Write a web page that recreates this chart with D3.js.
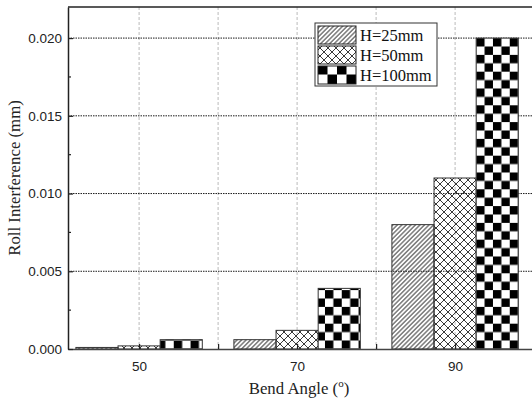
<!DOCTYPE html>
<html><head><meta charset="utf-8">
<script src="https://cdn.jsdelivr.net/npm/d3@7"></script>
<style>body{margin:0;background:#fff;} svg{display:block;}</style>
</head><body>
<svg id="c" width="532" height="400"></svg>
<script>
const categories = [50, 70, 90];
const seriesNames = ["H=25mm", "H=50mm", "H=100mm"];
const h25 = [0.0001, 0.0006, 0.0080];
const h50 = [0.0002, 0.0012, 0.0110];
const h100 = [0.0006, 0.0039, 0.0200];
const yTicks = [0, 0.005, 0.010, 0.015, 0.020];
const yMinor = [0.0025, 0.0075, 0.0125, 0.0175];
const xTicks = [50, 70, 90];
const xGrid = [50, 60, 70, 80, 90];

const SERIF = "'Liberation Serif', 'Times New Roman', serif";
const SANS = "'Liberation Sans', Arial, sans-serif";
const series = [h25, h50, h100];
const svg = d3.select("#c");
const L = 68, T = 7, B = 349;
const x = d3.scaleLinear().domain([41, 100]).range([L, L + 59 * 7.9]);
const y = d3.scaleLinear().domain([0, 0.022]).range([B, T]);

const defs = svg.append("defs");
// diagonal hatch "////"
const p1 = defs.append("pattern").attr("id", "hatch").attr("patternUnits", "userSpaceOnUse")
  .attr("width", 3.2).attr("height", 10).attr("patternTransform", "rotate(45)");
p1.append("line").attr("x1", 1.6).attr("x2", 1.6).attr("y1", 0).attr("y2", 10)
  .attr("stroke", "#222").attr("stroke-width", 0.9);
// cross hatch
const p2 = defs.append("pattern").attr("id", "cross").attr("patternUnits", "userSpaceOnUse")
  .attr("width", 8).attr("height", 8);
p2.append("path").attr("d", "M0,0 L8,8 M8,0 L0,8").attr("stroke", "#222").attr("stroke-width", 0.9);
// checker
function checker(id, s, ox, oy) {
  const p = defs.append("pattern").attr("id", id).attr("patternUnits", "userSpaceOnUse")
    .attr("width", 2 * s).attr("height", 2 * s).attr("x", ox).attr("y", oy);
  p.append("rect").attr("width", 2 * s).attr("height", 2 * s).attr("fill", "#fff");
  p.append("rect").attr("width", s).attr("height", s).attr("fill", "#000");
  p.append("rect").attr("x", s).attr("y", s).attr("width", s).attr("height", s).attr("fill", "#000");
}
checker("checker", 8.4, x(90 + 16 / 6), y(0.02));
checker("checkerL", 9.5, 318, 27);
const fills = ["url(#hatch)", "url(#cross)", "url(#checker)"];
const lfills = ["url(#hatch)", "url(#cross)", "url(#checkerL)"];

// vertical grid
svg.append("g").selectAll("line").data(xGrid).join("line")
  .attr("x1", d => x(d)).attr("x2", d => x(d)).attr("y1", T).attr("y2", B)
  .attr("stroke", "#bbb").attr("stroke-width", 1).attr("stroke-dasharray", "3,2");
// horizontal grid
svg.append("g").selectAll("line").data(yTicks.filter(d => d > 0)).join("line")
  .attr("x1", L).attr("x2", 532).attr("y1", d => y(d)).attr("y2", d => y(d))
  .attr("stroke", "#000").attr("stroke-width", 0.9).attr("stroke-dasharray", "1.5,1");

// bars
const groupW = 16; // units
const bw = groupW / 3;
series.forEach((s, si) => {
  svg.append("g").selectAll("rect").data(categories).join("rect")
    .attr("x", (d) => x(d - groupW / 2 + si * bw))
    .attr("width", x(bw) - x(0))
    .attr("y", (d, i) => y(s[i]))
    .attr("height", (d, i) => y(0) - y(s[i]))
    .attr("fill", fills[si]).attr("stroke", "#333").attr("stroke-width", 1);
});

// axes
const ax = svg.append("g").attr("transform", `translate(0,${B})`)
  .call(d3.axisBottom(x).tickValues(xGrid).tickSizeInner(-5).tickSizeOuter(0).tickFormat(d => xTicks.includes(d) ? d : ""));
ax.select(".domain").attr("stroke", "#444").attr("stroke-width", 1.5);
ax.selectAll(".tick line").attr("stroke", "#222").attr("stroke-width", 1.2);
ax.selectAll("text").attr("font-family", SANS).attr("font-size", 13.5)
  .attr("fill", "#222").attr("dy", 0).attr("y", 22);

const ay = svg.append("g").attr("transform", `translate(${L},0)`)
  .call(d3.axisLeft(y).tickValues(yTicks).tickSizeInner(-5).tickSizeOuter(0).tickFormat(d3.format(".3f")));
ay.select(".domain").attr("stroke", "#222").attr("stroke-width", 1.5);
ay.selectAll(".tick line").attr("stroke", "#222").attr("stroke-width", 1.2);
ay.selectAll("text").attr("font-family", SANS).attr("font-size", 13.5)
  .attr("fill", "#222").attr("x", -6);
svg.append("g").selectAll("line").data(yMinor).join("line")
  .attr("x1", L).attr("x2", L + 3).attr("y1", d => y(d)).attr("y2", d => y(d))
  .attr("stroke", "#222").attr("stroke-width", 1.2);

// top frame
svg.append("line").attr("x1", L).attr("x2", 532).attr("y1", T).attr("y2", T)
  .attr("stroke", "#222").attr("stroke-width", 1.5);

// titles
const xt = svg.append("text").attr("x", 299).attr("y", 394).attr("text-anchor", "middle")
  .attr("font-family", SERIF).attr("font-size", 16.8).attr("fill", "#222");
xt.append("tspan").text("Bend Angle (");
xt.append("tspan").attr("dy", -7).attr("font-size", 11).text("o");
xt.append("tspan").attr("dy", 7).text(")");
svg.append("text").attr("transform", "translate(20,178) rotate(-90)").attr("text-anchor", "middle")
  .attr("font-family", SERIF).attr("font-size", 16.8).attr("fill", "#222")
  .text("Roll Interference (mm)");

// legend
const lg = svg.append("g");
lg.append("rect").attr("x", 315).attr("y", 23).attr("width", 122).attr("height", 63)
  .attr("fill", "#fff").attr("stroke", "#333").attr("stroke-width", 1);
seriesNames.forEach((n, i) => {
  const yy = 26 + i * 20;
  lg.append("rect").attr("x", 318).attr("y", yy).attr("width", 38).attr("height", 18)
    .attr("fill", lfills[i]).attr("stroke", "#222").attr("stroke-width", 1);
  lg.append("text").attr("x", 360).attr("y", yy + 15).attr("font-family", SERIF)
    .attr("font-size", 16.5).attr("fill", "#111").text(n);
});
</script>
</body></html>
